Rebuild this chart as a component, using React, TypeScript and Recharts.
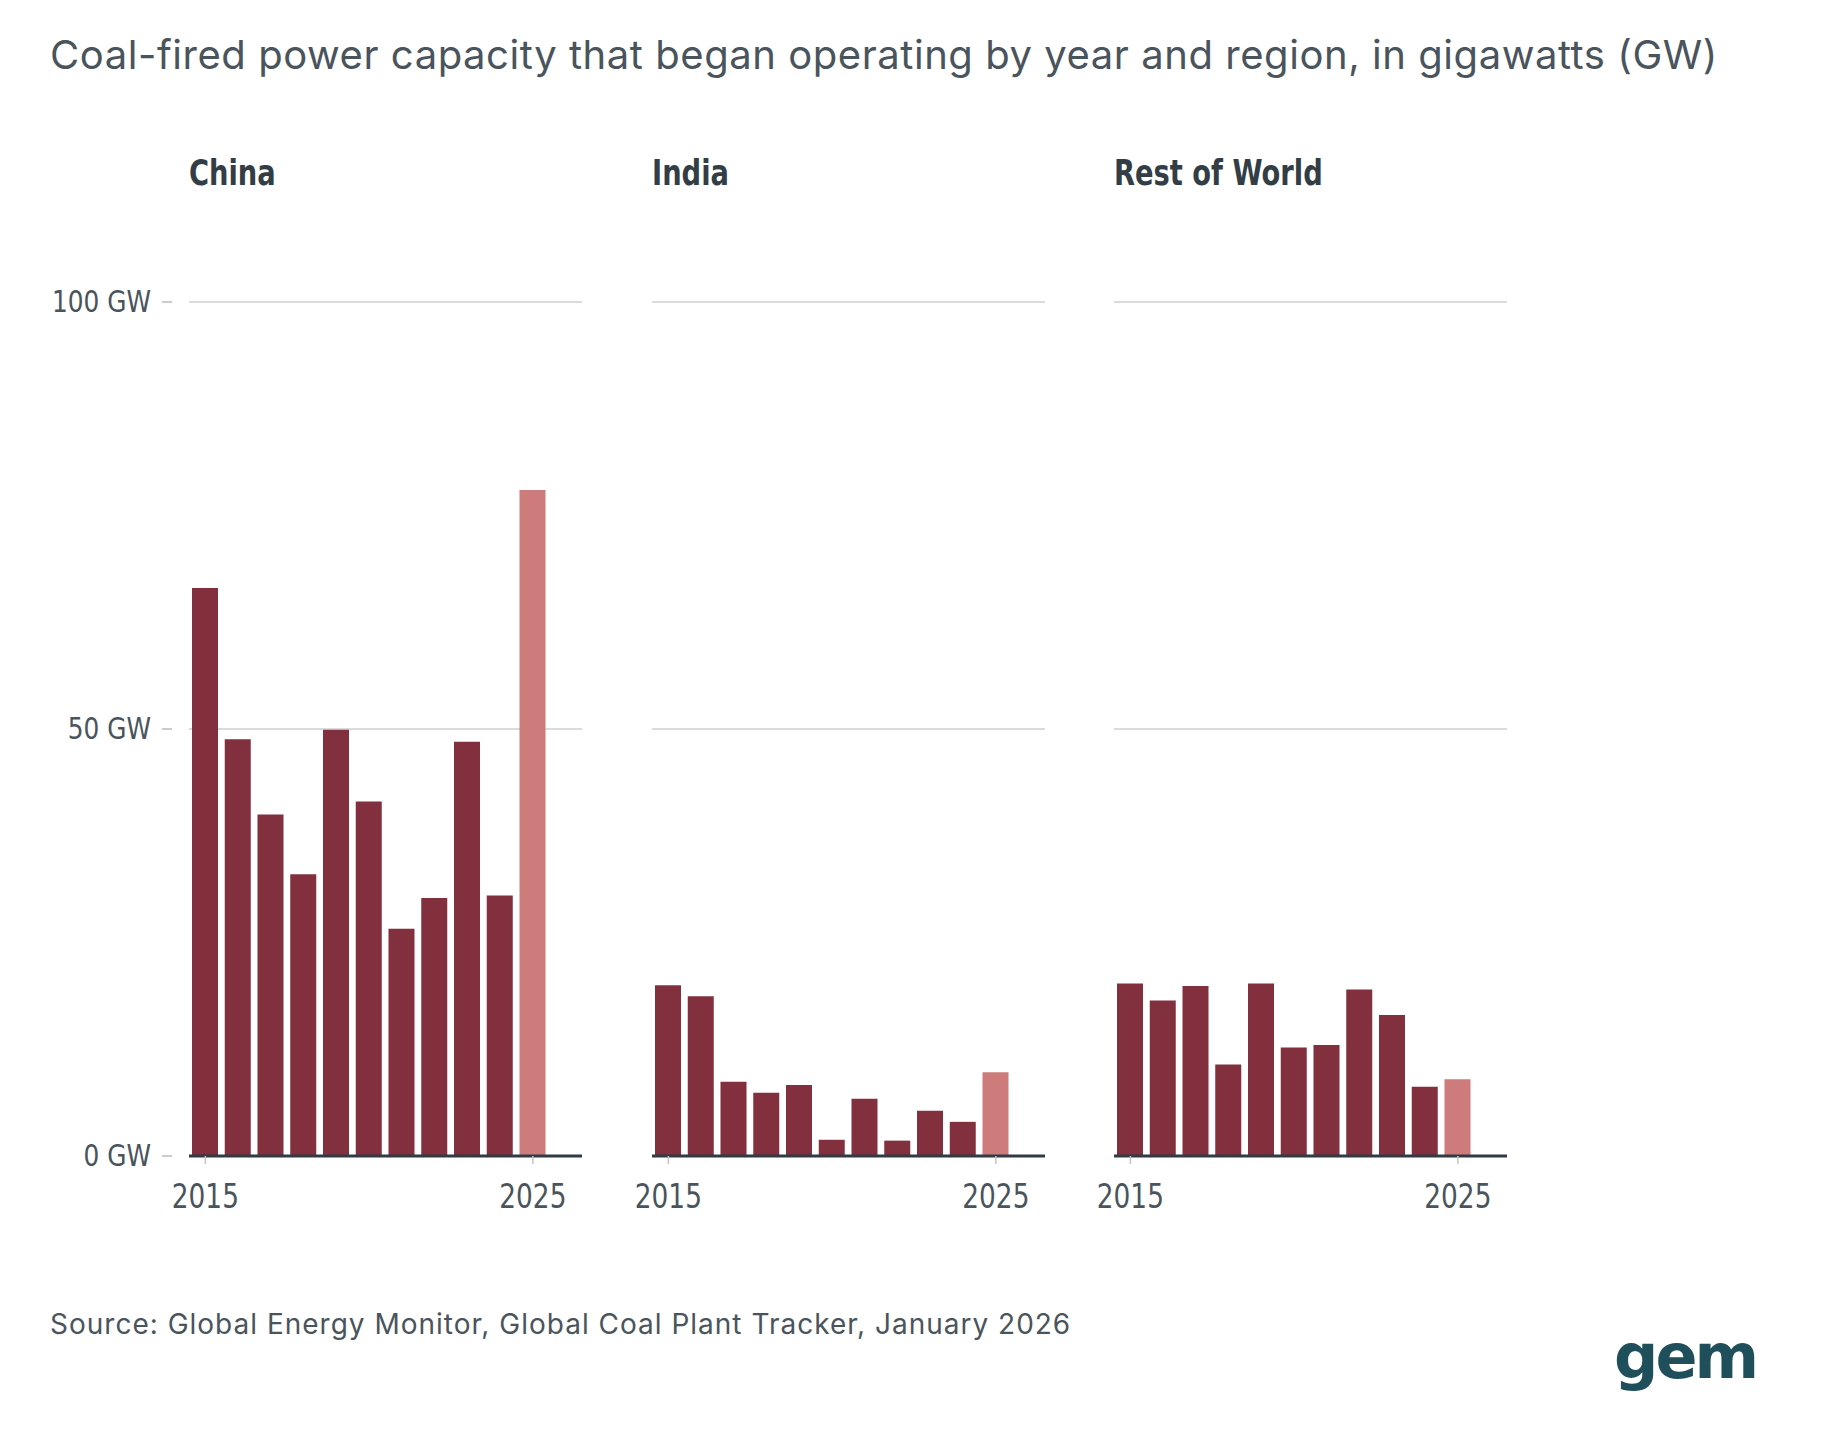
import { BarChart, Bar, XAxis, YAxis, CartesianGrid, Cell } from "recharts";

const years = [2015, 2016, 2017, 2018, 2019, 2020, 2021, 2022, 2023, 2024, 2025];
const china = [66.5, 48.8, 40, 33, 49.9, 41.5, 26.6, 30.2, 48.5, 30.5, 78];
const india = [20, 18.7, 8.7, 7.4, 8.3, 1.9, 6.7, 1.8, 5.3, 4, 9.8];
const rest = [20.2, 18.2, 19.9, 10.7, 20.2, 12.7, 13, 19.5, 16.5, 8.1, 9];
const yTicks = [0, 50, 100];
const xTicks = [2015, 2025];

const DARK = "#822f3e";
const LIGHT = "#cd7b7b";
const TEXT = "#4a545c";
const COND = "'DejaVu Sans', sans-serif";
const SANS = "Inter, 'Noto Sans', sans-serif";

const PLOT_W = 393;
const PLOT_H = 854;
const TOP = 302;
const PAD = 40;

function YTick(props: any) {
  const { x, y, payload } = props;
  return (
    <g>
      <line x1={x - 27} x2={x - 17} y1={y} y2={y} stroke="#bbb" strokeWidth={1.5} />
      <text
        transform={`translate(${x - 38},${y + 10}) scale(0.8,1)`}
        textAnchor="end"
        fill={TEXT}
        fontFamily={COND}
        fontSize={31}
      >
        {payload.value} GW
      </text>
    </g>
  );
}

function XTick(props: any) {
  const { x, y, payload } = props;
  return (
    <text
      transform={`translate(${x},${y + 42}) scale(0.8,1)`}
      textAnchor="middle"
      fill={TEXT}
      fontFamily={COND}
      fontSize={33}
    >
      {payload.value}
    </text>
  );
}

function Panel({ values, title, left, withAxis }: { values: number[]; title: string; left: number; withAxis: boolean }) {
  const data = years.map((year, i) => ({ year, v: values[i] }));
  const axisW = withAxis ? 189 : 0;
  const offset = axisW + PAD;
  return (
    <div style={{ position: "absolute", left: left - offset, top: TOP - 20 }}>
      <div
        style={{
          position: "absolute",
          left: offset,
          top: -129,
          fontFamily: COND,
          fontWeight: 700,
          fontSize: 35,
          color: "#333d45",
          whiteSpace: "nowrap",
          transform: "scaleX(0.78)",
          transformOrigin: "left",
        }}
      >
        {title}
      </div>
      <BarChart
        width={offset + PLOT_W + 40}
        height={20 + PLOT_H + 80}
        data={data}
        margin={{ top: 20, right: 40, left: PAD, bottom: 0 }}
        barSize={26}
      >
        <CartesianGrid vertical={false} stroke="#cfcfcf" strokeWidth={1.5} />
        <YAxis
          domain={[0, 100]}
          ticks={yTicks}
          width={axisW}
          hide={!withAxis}
          axisLine={false}
          tickLine={false}
          tickSize={0}
          tickMargin={0}
          tick={<YTick />}
        />
        <XAxis
          dataKey="year"
          type="number"
          domain={[2014.5, 2026.5]}
          ticks={xTicks}
          height={80}
          axisLine={{ stroke: "#2f3b45", strokeWidth: 3 }}
          tickLine={{ stroke: "#c4c4c4", strokeWidth: 1.5 }}
          tickSize={8}
          tick={<XTick />}
        />
        <Bar dataKey="v" isAnimationActive={false}>
          {data.map((d) => (
            <Cell key={d.year} fill={d.year === 2025 ? LIGHT : DARK} />
          ))}
        </Bar>
      </BarChart>
    </div>
  );
}

export default function App() {
  return (
    <div style={{ position: "relative", width: 1826, height: 1431, margin: -8, background: "#fff", overflow: "hidden" }}>
      <div
        style={{
          position: "absolute",
          left: 50,
          top: 30,
          fontFamily: SANS,
          fontSize: 40,
          color: "#4a545c",
          letterSpacing: 0.55,
          whiteSpace: "nowrap",
        }}
      >
        Coal-fired power capacity that began operating by year and region, in gigawatts (GW)
      </div>
      <Panel values={china} title="China" left={189} withAxis />
      <Panel values={india} title="India" left={652} withAxis={false} />
      <Panel values={rest} title="Rest of World" left={1114} withAxis={false} />
      <div
        style={{
          position: "absolute",
          left: 50,
          top: 1307,
          fontFamily: SANS,
          fontSize: 28,
          color: TEXT,
          letterSpacing: 1,
          whiteSpace: "nowrap",
        }}
      >
        Source: Global Energy Monitor, Global Coal Plant Tracker, January 2026
      </div>
      <div
        style={{
          position: "absolute",
          left: 1614,
          top: 1320,
          fontFamily: "'DejaVu Sans', sans-serif",
          fontWeight: 700,
          fontSize: 62,
          color: "#1f4f5a",
          letterSpacing: -3,
        }}
      >
        gem
      </div>
    </div>
  );
}
